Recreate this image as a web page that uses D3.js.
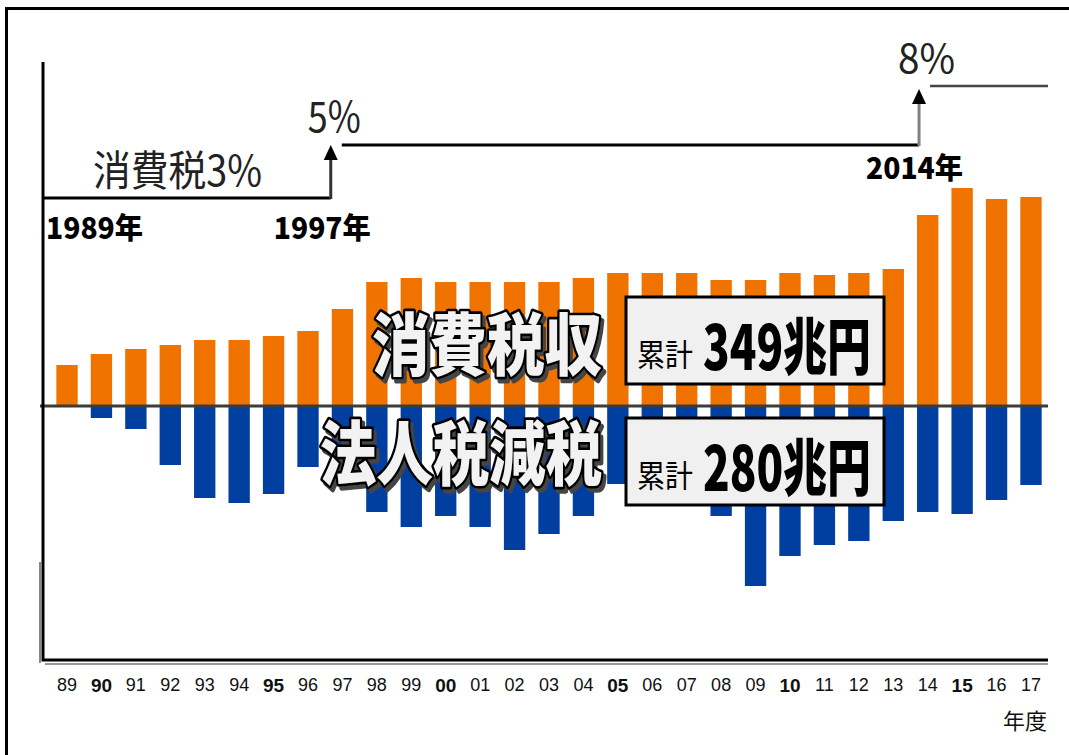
<!DOCTYPE html>
<html>
<head>
<meta charset="utf-8">
<script src="https://cdn.jsdelivr.net/npm/d3@7"></script>
<style>
    body { margin: 0; background: #fff; }
    svg { display: block; font-family: "Noto Sans CJK JP", sans-serif; }
    .tick-label { font-family: "Liberation Sans", Arial, sans-serif; font-size: 18px; fill: #111; }
</style>
</head>
<body>
<div id="chart"></div>
<script>
// fiscal years (two-digit labels)
const years = ['89', '90', '91', '92', '93', '94', '95', '96', '97', '98', '99', '00', '01', '02', '03',
    '04', '05', '06', '07', '08', '09', '10', '11', '12', '13', '14', '15', '16', '17'];
const boldYears = ['90', '95', '00', '05', '10', '15'];

// 兆円
const consumptionTax = [4.1, 5.2, 5.7, 6.1, 6.6, 6.6, 7.0, 7.5, 9.7, 12.4, 12.8, 12.4, 12.4, 12.4, 12.4,
    12.8, 13.3, 13.3, 13.3, 12.6, 12.6, 13.3, 13.1, 13.3, 13.7, 19.1, 21.8, 20.7, 20.9];
const corpTaxCut = [0, 1.2, 2.3, 5.9, 9.2, 9.7, 8.8, 6.1, 7.5, 10.6, 12.1, 11.0, 12.1, 14.4, 12.8,
    11.0, 7.8, 7.3, 7.5, 11.0, 18.0, 15.0, 13.9, 13.5, 11.5, 10.6, 10.8, 9.4, 7.9];

const seriesNames = ['消費税収', '法人税減税'];
const seriesTotals = ['349', '280'];

// consumption tax rate steps
const rateYears = ['89', '97', '14'];
const rates = [3, 5, 8];
const rateLabels = ['消費税3%', '5%', '8%'];
const rateYearLabels = ['1989年', '1997年', '2014年'];

class TaxChart {
    constructor(config) {
        this.config = {
            parentElement: config.parentElement,
            width: config.width || 1069,
            height: config.height || 755
        };
        this.initVis();
    }

    initVis() {
        let vis = this;

        vis.svg = d3.select(vis.config.parentElement)
            .append('svg')
            .attr('width', vis.config.width)
            .attr('height', vis.config.height);

        // drop shadow for the big outlined titles
        const filter = vis.svg.append('defs').append('filter')
            .attr('id', 'shadow')
            .attr('x', '-5%').attr('y', '-10%')
            .attr('width', '115%').attr('height', '130%');
        filter.append('feOffset').attr('in', 'SourceAlpha').attr('dx', 3).attr('dy', 3).attr('result', 'off');
        filter.append('feFlood').attr('flood-color', '#444').attr('result', 'col');
        filter.append('feComposite').attr('in', 'col').attr('in2', 'off').attr('operator', 'in').attr('result', 'sh');
        const merge = filter.append('feMerge');
        merge.append('feMergeNode').attr('in', 'sh');
        merge.append('feMergeNode').attr('in', 'SourceGraphic');

        vis.xScale = d3.scaleBand()
            .domain(years)
            .range([49.8, 1048.2])
            .paddingInner(0.38)
            .paddingOuter(0.19);

        vis.yScale = d3.scaleLinear()
            .domain([-25.4, 34.4])
            .range([660, 62]);

        vis.rateScale = d3.scaleLinear()
            .domain(rates)
            .range([198, 145, 87]);

        vis.drawFrame();
        vis.drawBars();
        vis.drawAxes();
        vis.drawRates();
        vis.drawLabels();
    }

    drawFrame() {
        let vis = this;
        // outer frame: top and left only
        vis.svg.append('path')
            .attr('d', `M6.5,${vis.config.height}V8.5H${vis.config.width}`)
            .attr('fill', 'none')
            .attr('stroke', '#000')
            .attr('stroke-width', 3);
    }

    drawBars() {
        let vis = this;
        const y0 = vis.yScale(0);

        vis.svg.append('g').selectAll('rect')
            .data(years.map((y, i) => ({ year: y, value: consumptionTax[i] })))
            .join('rect')
            .attr('x', d => vis.xScale(d.year))
            .attr('width', vis.xScale.bandwidth())
            .attr('y', d => vis.yScale(d.value))
            .attr('height', d => y0 - vis.yScale(d.value))
            .attr('fill', '#f07300');

        vis.svg.append('g').selectAll('rect')
            .data(years.map((y, i) => ({ year: y, value: corpTaxCut[i] })))
            .join('rect')
            .attr('x', d => vis.xScale(d.year))
            .attr('width', vis.xScale.bandwidth())
            .attr('y', y0)
            .attr('height', d => vis.yScale(-d.value) - y0)
            .attr('fill', '#003f9f');

        // zero line
        vis.svg.append('line')
            .attr('x1', 40).attr('x2', 1048)
            .attr('y1', y0).attr('y2', y0)
            .attr('stroke', '#3c3c3c')
            .attr('stroke-width', 3);
    }

    drawAxes() {
        let vis = this;
        const [yBottom, yTop] = vis.yScale.range();

        // shadowed axis lines
        vis.svg.append('line')
            .attr('x1', 40).attr('x2', 40).attr('y1', 562).attr('y2', yBottom + 3)
            .attr('stroke', '#888').attr('stroke-width', 2);
        vis.svg.append('line')
            .attr('x1', 45).attr('x2', 1048).attr('y1', yBottom + 4).attr('y2', yBottom + 4)
            .attr('stroke', '#999').attr('stroke-width', 2);
        vis.svg.append('path')
            .attr('d', `M43,${yTop}V${yBottom}H1048`)
            .attr('fill', 'none')
            .attr('stroke', '#000')
            .attr('stroke-width', 3);

        const xAxis = d3.axisBottom(vis.xScale).tickSize(0).tickPadding(0);
        const axisG = vis.svg.append('g')
            .attr('transform', `translate(0,${yBottom + 14})`)
            .call(xAxis);
        axisG.select('.domain').remove();
        axisG.selectAll('text')
            .attr('class', 'tick-label')
            .attr('dy', '0.95em')
            .attr('font-family', null)
            .attr('font-size', null)
            .style('font-weight', d => boldYears.includes(d) ? 'bold' : 'normal')
            .style('font-size', d => boldYears.includes(d) ? '19px' : '18px');

        vis.svg.append('text')
            .attr('x', 1047)
            .attr('y', 729)
            .attr('text-anchor', 'end')
            .style('font-size', '22px')
            .style('fill', '#111')
            .text('年度');
    }

    drawRates() {
        let vis = this;
        const arrowX = rateYears.map(y => vis.xScale(y));
        arrowX[0] = 44;
        const lvl = rates.map(r => vis.rateScale(r));

        // 3% step
        vis.svg.append('line')
            .attr('x1', arrowX[0]).attr('x2', arrowX[1] - 1)
            .attr('y1', lvl[0]).attr('y2', lvl[0])
            .attr('stroke', '#000').attr('stroke-width', 3);
        // 5% step
        vis.svg.append('line')
            .attr('x1', arrowX[1] + 10).attr('x2', arrowX[2] + 2)
            .attr('y1', lvl[1]).attr('y2', lvl[1])
            .attr('stroke', '#000').attr('stroke-width', 3);
        // 8% step
        vis.svg.append('line')
            .attr('x1', arrowX[2] + 13).attr('x2', 1048)
            .attr('y1', lvl[2] - 1).attr('y2', lvl[2] - 1)
            .attr('stroke', '#444').attr('stroke-width', 2.5);

        const arrow = (x, yFrom, yTip, shaft) => {
            vis.svg.append('line')
                .attr('x1', x).attr('x2', x)
                .attr('y1', yFrom).attr('y2', yTip + 12)
                .attr('stroke', shaft).attr('stroke-width', 3);
            vis.svg.append('path')
                .attr('d', `M${x},${yTip}L${x - 7},${yTip + 15}L${x + 7},${yTip + 15}Z`)
                .attr('fill', '#000');
        };
        arrow(arrowX[1] - 1, lvl[0] + 1, lvl[1], '#333');
        arrow(arrowX[2] + 2, lvl[1] + 1, lvl[2] + 2, '#808080');

        const rateText = (str, x, y, size, len) => vis.svg.append('text')
            .attr('x', x).attr('y', y)
            .attr('textLength', len)
            .attr('lengthAdjust', 'spacingAndGlyphs')
            .style('font-size', size + 'px')
            .style('fill', '#222')
            .text(str);
        rateText(rateLabels[0], 93, lvl[0] - 12, 42, 169);
        rateText(rateLabels[1], arrowX[1] - 24, lvl[1] - 13, 42, 53);
        rateText(rateLabels[2], arrowX[2] - 19, lvl[2] - 14, 40, 57);

        const yearText = (str, x, y) => vis.svg.append('text')
            .attr('x', x).attr('y', y)
            .attr('textLength', 97)
            .attr('lengthAdjust', 'spacingAndGlyphs')
            .style('font-size', '29px')
            .style('font-weight', 900)
            .style('fill', '#000')
            .text(str);
        yearText(rateYearLabels[0], 46, lvl[0] + 41);
        yearText(rateYearLabels[1], arrowX[1] - 58, lvl[0] + 41);
        yearText(rateYearLabels[2], arrowX[2] - 51, lvl[1] + 34);
    }

    drawLabels() {
        let vis = this;

        // outlined title, stretched vertically instead of squeezed horizontally
        const outlined = (str, x, y, size, sy) => vis.svg.append('text')
            .attr('transform', `translate(${x},${y}) scale(1,${sy})`)
            .attr('filter', 'url(#shadow)')
            .style('font-size', size + 'px')
            .style('font-weight', 900)
            .style('fill', '#f2f2f2')
            .style('stroke', '#000')
            .style('stroke-width', 4.5)
            .style('stroke-linejoin', 'round')
            .style('paint-order', 'stroke')
            .text(str);
        outlined(seriesNames[0], 372, 370, 57.5, 1.18);
        outlined(seriesNames[1], 320, 480, 56.4, 1.24);

        const boxes = [{ top: 297, total: seriesTotals[0] },
                       { top: 418, total: seriesTotals[1] }];
        boxes.forEach(b => {
            vis.svg.append('rect')
                .attr('x', 626).attr('y', b.top)
                .attr('width', 258).attr('height', 87)
                .attr('fill', '#f0f0f0')
                .attr('stroke', '#000')
                .attr('stroke-width', 3);
            vis.svg.append('text')
                .attr('x', 637).attr('y', b.top + 69)
                .attr('textLength', 56)
                .attr('lengthAdjust', 'spacingAndGlyphs')
                .style('font-size', '31px')
                .style('fill', '#000')
                .text('累計');
            vis.svg.append('text')
                .attr('x', 703).attr('y', b.top + 73)
                .attr('textLength', 168)
                .attr('lengthAdjust', 'spacingAndGlyphs')
                .style('font-size', '62px')
                .style('font-weight', 900)
                .style('fill', '#000')
                .text(b.total + '兆円');
        });
    }
}

new TaxChart({ parentElement: '#chart' });
</script>
</body>
</html>
